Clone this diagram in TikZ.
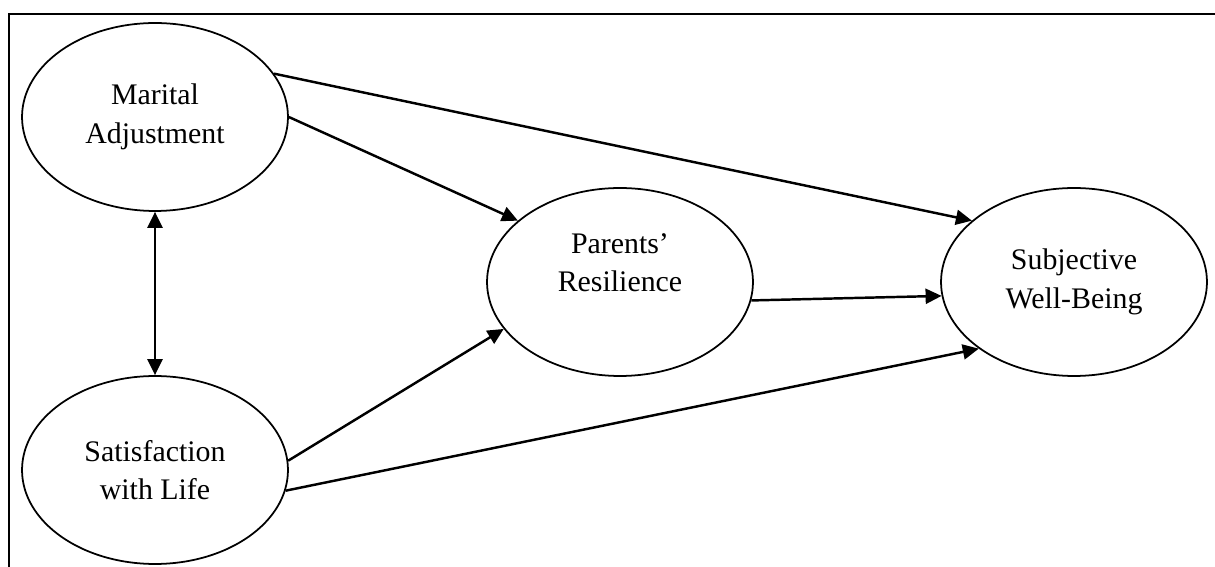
\documentclass[tikz,border=0pt]{standalone}
\usepackage{fontspec}
\setmainfont{Liberation Serif}
\usetikzlibrary{shapes.geometric,arrows.meta}

\begin{document}
\begin{tikzpicture}[
    x=0.02cm, y=-0.02cm,
    construct/.style={ellipse, draw, line width=1pt, minimum width=5.32cm, minimum height=3.76cm, inner sep=1pt, align=center, font=\fontsize{17}{22}\selectfont},
    effect/.style={-{Triangle[length=3.2mm,width=3mm]}, line width=1.4pt},
    both/.style={{Triangle[length=3.2mm,width=3mm]}-{Triangle[length=3.2mm,width=3mm]}, line width=1.4pt}
    ]
    \useasboundingbox (0,0) rectangle (1215,567);
    \draw[line width=1.6pt] (9,567) -- (9,14) -- (1215,14);

    \node[construct] (ma) at (155,117) {Marital\\Adjustment};
    \node[construct] (sl) at (155,470) {Satisfaction\\with Life};
    \node[construct] (pr) at (620,282) {Parents’\\Resilience\\\mbox{}}; % leere Zeile darunter
    \node[construct] (swb) at (1074,282) {Subjective\\Well-Being};

    \draw[both] (ma.south) -- (sl.north);
    \draw[effect] (ma.20) -- (swb.149);
    \draw[effect] (ma.0) -- (pr.149);
    \draw[effect] (sl.4) -- (pr.202);
    \draw[effect] (sl.-9) -- (swb.215);
    \draw[effect] (pr.-8) -- (swb.186);
\end{tikzpicture}
\end{document}
